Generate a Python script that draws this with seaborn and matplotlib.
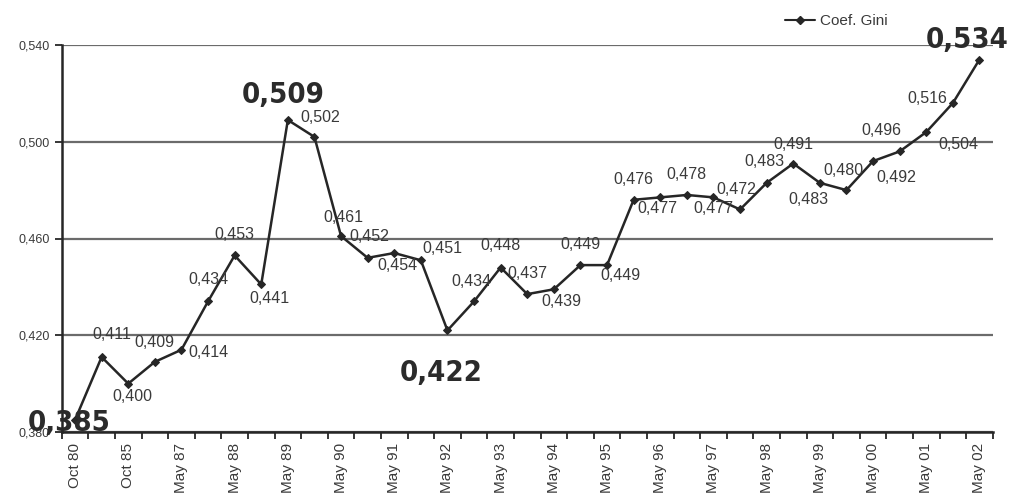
import numpy as np
import pandas as pd
import matplotlib
matplotlib.use("Agg")
import matplotlib.pyplot as plt
import seaborn as sns
from matplotlib.ticker import FixedLocator, FuncFormatter
from matplotlib.lines import Line2D
from matplotlib import font_manager

# Gini coefficient, one value per survey (35 surveys, Oct 80 .. May 02)
gini = [0.385, 0.411, 0.400, 0.409, 0.414, 0.434, 0.453, 0.441, 0.509,
        0.502, 0.461, 0.452, 0.454, 0.451, 0.422, 0.434, 0.448, 0.437,
        0.439, 0.449, 0.449, 0.476, 0.477, 0.478, 0.477, 0.472, 0.483,
        0.491, 0.483, 0.480, 0.492, 0.496, 0.504, 0.516, 0.534]

# tick labels shown on every second survey
tick_labels = ["Oct 80", "Oct 85", "May 87", "May 88", "May 89", "May 90",
               "May 91", "May 92", "May 93", "May 94", "May 95", "May 96",
               "May 97", "May 98", "May 99", "May 00", "May 01", "May 02"]

y_ticks = [0.380, 0.420, 0.460, 0.500, 0.540]

# surveys highlighted with a big label
big_idx = [0, 8, 14, 34]

# label offsets in pixels (dx, dy) for every survey
label_offsets = [(-6, -3), (10, 23), (4, -13), (0, 19), (27, -3), (0, 22),
                 (0, 21), (8, -14), (-5, 25), (6, 19), (2, 19), (2, 21),
                 (3, -12), (22, 12), (-6, -43), (-3, 20), (0, 22), (0, 21),
                 (8, -12), (0, 21), (13, -10), (0, 20), (-3, -11), (0, 20),
                 (0, -11), (-4, 20), (-2, 21), (0, 19), (-11, -17), (-3, 20),
                 (23, -16), (-18, 21), (32, -12), (-26, 5), (-12, 20)]

df = pd.DataFrame({"pos": np.arange(len(gini)), "gini": gini})

sns.set_style("white")
plt.rcParams["font.family"] = ["Liberation Sans", "DejaVu Sans"]

big_fp = font_manager.FontProperties(family="DejaVu Sans", weight="bold",
                                     stretch="condensed", size=21)

fig = plt.figure(figsize=(10.12, 5.0), dpi=100)
ax = fig.add_axes([0.061, 0.136, 0.920, 0.774])

line_col = "#262626"
text_col = "#3a3a3a"

ax.grid(axis="y", color="#6b6b6b", linewidth=1.6)
ax.set_axisbelow(True)

sns.lineplot(data=df, x="pos", y="gini", ax=ax, color=line_col,
             linewidth=1.8, marker="D", markersize=4.5,
             markeredgecolor=line_col, markerfacecolor=line_col)

for i, v in enumerate(gini):
    dx, dy = label_offsets[i]
    txt = f"{v:.3f}".replace(".", ",")
    if i in big_idx:
        ax.annotate(txt, (i, v), xytext=(dx, dy), textcoords="offset pixels",
                    ha="center", va="center", fontproperties=big_fp,
                    color="#2b2b2b")
    else:
        ax.annotate(txt, (i, v), xytext=(dx, dy), textcoords="offset pixels",
                    ha="center", va="center", fontsize=11.5, color=text_col)

ax.set_xlim(-0.5, len(gini) - 0.5)
ax.set_ylim(y_ticks[0], y_ticks[-1])

ax.set_xticks(np.arange(0, len(gini), 2))
ax.set_xticklabels(tick_labels, rotation=90, fontsize=11, color=text_col)
ax.xaxis.set_minor_locator(FixedLocator(np.arange(-0.5, len(gini), 1)))
ax.tick_params(axis="x", which="major", length=0, pad=8)
ax.tick_params(axis="x", which="minor", length=5, width=1.3,
               color=line_col, direction="out", bottom=True)

ax.set_yticks(y_ticks)
ax.yaxis.set_major_formatter(FuncFormatter(lambda v, p: f"{v:.3f}".replace(".", ",")))
ax.tick_params(axis="y", length=5, width=1.3, color=line_col, left=True,
               labelsize=9, labelcolor=text_col)

ax.set_xlabel("")
ax.set_ylabel("")

for s in ["top", "right"]:
    ax.spines[s].set_visible(False)
for s in ["left", "bottom"]:
    ax.spines[s].set_color(line_col)
    ax.spines[s].set_linewidth(1.8)

handle = Line2D([], [], color=line_col, linewidth=1.5, marker="D",
                markersize=4)
fig.legend([handle], ["Coef. Gini"], loc="center", frameon=False,
           bbox_to_anchor=(0.826, 0.958), fontsize=11, handlelength=2.0,
           handletextpad=0.3, labelcolor=text_col)

fig.savefig("out.png", dpi=100, facecolor="white")
